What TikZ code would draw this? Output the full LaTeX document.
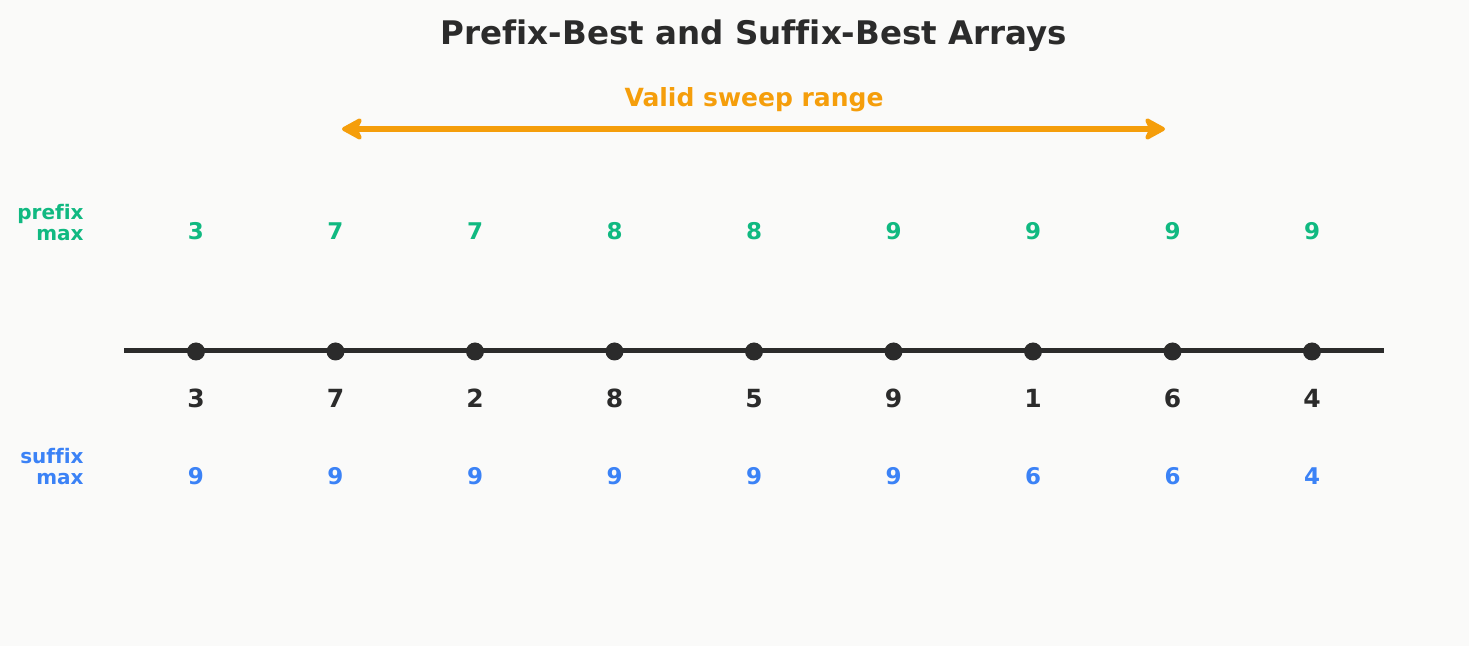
\documentclass[tikz,border=0pt]{standalone}
\usepackage{fontspec}
\setmainfont[Ligatures={NoCommon}]{DejaVu Sans}
\usetikzlibrary{arrows.meta}
\definecolor{bg}{HTML}{FAFAF9}
\definecolor{ink}{HTML}{2B2B2B}
\definecolor{pgreen}{HTML}{10B981}
\definecolor{sblue}{HTML}{3B82F6}
\definecolor{sorange}{HTML}{F59E0B}
\begin{document}
\begin{tikzpicture}[x=0.5pt,y=-0.5pt,
  title/.style={font=\fontsize{16.25pt}{20pt}\selectfont\bfseries, text=ink, inner sep=0pt, anchor=base},
  rangelbl/.style={font=\fontsize{12.5pt}{14pt}\selectfont\bfseries, text=sorange, inner sep=0pt, anchor=base},
  rowlbl/.style={font=\fontsize{10pt}{10.5pt}\selectfont\bfseries, inner sep=0pt, align=right, anchor=east},
  pval/.style={font=\fontsize{11.5pt}{13pt}\selectfont\bfseries, text=pgreen, inner sep=0pt, anchor=base},
  sval/.style={font=\fontsize{11.5pt}{13pt}\selectfont\bfseries, text=sblue, inner sep=0pt, anchor=base},
  aval/.style={font=\fontsize{12.5pt}{14pt}\selectfont\bfseries, text=ink, inner sep=0pt, anchor=base},
  dot/.style={circle, fill=ink, inner sep=0pt, minimum size=9pt},
  axis/.style={draw=ink, line width=2.5pt},
  sweep/.style={draw=sorange, line width=2.75pt, {Stealth[length=12pt,width=13pt,inset=3pt,line width=2pt,round]}-{Stealth[length=12pt,width=13pt,inset=3pt,line width=2pt,round]}}
]
\fill[bg] (0,0) rectangle (1469,646);
\useasboundingbox (0,0) rectangle (1469,646);
\node[title] (ttl) at (754,45) {Prefix-Best and Suffix-Best Arrays};
\node[rangelbl] (rng) at (754,107) {Valid sweep range};
\coordinate (sweepL) at (342,129);
\coordinate (sweepR) at (1165,129);
\draw[sweep] (sweepL) -- (sweepR);
\node[rowlbl, text=pgreen] (plbl) at (84,223) {prefix\\max};
\node[rowlbl, text=sblue] (slbl) at (84,467) {suffix\\max};
\coordinate (axL) at (124,351);
\coordinate (axR) at (1384,351);
\draw[axis] (axL) -- (axR);
\foreach \i/\a/\p/\s in {0/3/3/9,1/7/7/9,2/2/7/9,3/8/8/9,4/5/8/9,5/9/9/9,6/1/9/6,7/6/9/6,8/4/9/4}{
  \pgfmathsetmacro{\xx}{196+139.5*\i}
  \node[dot] (d\i) at (\xx,351.5) {};
  \node[pval] (p\i) at (\xx,240) {\p};
  \node[aval] (a\i) at (\xx,407.5) {\a};
  \node[sval] (s\i) at (\xx,484.5) {\s};
}
\end{tikzpicture}
\end{document}
